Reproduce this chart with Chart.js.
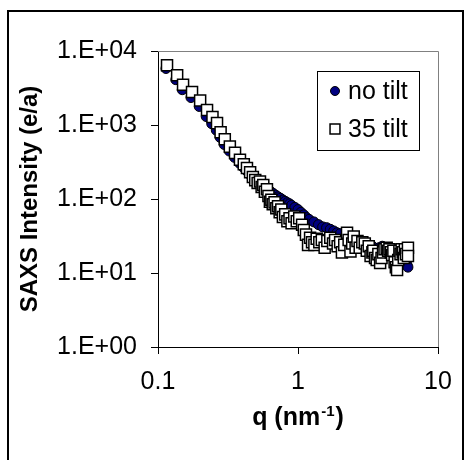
<!DOCTYPE html>
<html>
<head>
<meta charset="utf-8">
<script src="https://cdn.jsdelivr.net/npm/chart.js@4/dist/chart.umd.min.js"></script>
<style>
  body { margin: 0; background: #fff; }
  #wrap { width: 466px; height: 460px; }
</style>
</head>
<body>
<div id="wrap"><canvas id="saxsChart" width="466" height="460"></canvas></div>
<script>
// values
const noTiltQ = [0.114, 0.134, 0.149, 0.172, 0.197, 0.221, 0.242, 0.261, 0.278, 0.297,
    0.323, 0.352, 0.382, 0.407, 0.430, 0.453, 0.476, 0.500,
    0.530, 0.550, 0.570, 0.590, 0.610, 0.630, 0.660, 0.690, 0.720, 0.750,
    0.780, 0.810, 0.840, 0.870, 0.900, 0.950, 1.00, 1.05, 1.10, 1.15,
    1.20, 1.30, 1.40, 1.50, 1.60, 1.70, 1.80, 1.90, 2.00, 2.20,
    2.40, 2.60, 2.80, 3.00, 3.20, 3.40, 3.60, 3.80, 4.00, 4.20,
    4.40, 4.60, 4.80, 5.00, 5.20, 5.40, 5.60, 5.80, 6.00, 6.10];
const noTiltI = [5800, 4100, 3000, 2350, 1780, 1300, 1040, 850, 680, 545,
    445, 365, 305, 268, 240, 215, 197, 182,
    166, 157, 150, 143, 137, 128, 120, 113, 107, 102,
    97, 93, 89, 86, 82, 77, 72, 66, 61, 56,
    53, 49, 45, 42, 41, 39, 37, 35, 34, 31,
    30, 28, 27, 25, 24, 23, 21, 22, 23, 22,
    21, 20, 19, 18, 17, 18, 16, 15, 13, 12];

const tiltQ = [0.116, 0.137, 0.151, 0.175, 0.200, 0.224, 0.245, 0.264, 0.280, 0.300,
    0.326, 0.355, 0.385, 0.410, 0.432, 0.455, 0.476, 0.495, 0.515, 0.535,
    0.550, 0.565, 0.580, 0.600, 0.615,
    0.630, 0.645, 0.660, 0.680, 0.700, 0.720, 0.740, 0.760, 0.780, 0.810,
    0.840, 0.870, 0.900, 0.940, 0.980, 1.02, 1.07, 1.10, 1.14, 1.18,
    1.22, 1.26, 1.31, 1.36, 1.42, 1.48, 1.55, 1.62, 1.70, 1.78,
    1.84, 1.92, 2.00, 2.06, 2.14, 2.24, 2.30, 2.37, 2.44, 2.50,
    2.58, 2.66, 2.76, 2.88, 3.00, 3.10, 3.20, 3.30, 3.40, 3.45,
    3.55, 3.65, 3.75, 3.86, 3.95, 4.05, 4.15, 4.30, 4.40, 4.50,
    4.60, 4.70, 4.80, 4.90, 5.00, 5.10, 5.20, 5.30, 5.40, 5.50,
    5.60, 5.70, 5.80, 5.90, 6.10, 6.10];
const tiltI = [6400, 4700, 3500, 2800, 2150, 1600, 1280, 1060, 800, 640,
    510, 420, 340, 295, 262, 230, 198, 180, 165, 172,
    145, 155, 125, 135, 110,
    92, 98, 85, 90, 75, 80, 66, 72, 57, 62,
    50, 55, 47, 58, 50, 55, 45, 38, 33, 24,
    30, 26, 24, 29, 26, 28, 22, 27, 30, 25,
    28, 23, 26, 19, 24, 35, 28, 19.5, 25, 31,
    22, 27, 22, 26, 25, 20, 23, 17, 19, 20,
    16, 15, 18, 13.7, 16, 19, 21, 22, 20, 21,
    19, 17.5, 20, 14, 12, 11, 15, 20, 18, 21,
    19, 16, 21, 18, 22, 17];

const xTicks = [0.1, 1, 10];
const xTickLabels = ["0.1", "1", "10"];
const yTicks = [1, 10, 100, 1000, 10000];
const yTickLabels = ["1.E+00", "1.E+01", "1.E+02", "1.E+03", "1.E+04"];
const seriesNames = ["no tilt", "35 tilt"];

const FONT = "'Liberation Sans', Arial, sans-serif";

function toPoints(xs, ys) {
    return xs.map((x, i) => ({ x: x, y: ys[i] }));
}

// page frame, plot border and background
const framePlugin = {
    id: "frame",
    beforeDraw(chart) {
        const ctx = chart.ctx;
        ctx.save();
        ctx.fillStyle = "#fff";
        ctx.fillRect(0, 0, chart.width, chart.height);
        ctx.strokeStyle = "#000";
        ctx.lineWidth = 2;
        ctx.strokeRect(8, 11, chart.width - 11, chart.height + 20);
        ctx.restore();
    },
    beforeDatasetsDraw(chart) {
        const a = chart.chartArea;
        const ctx = chart.ctx;
        ctx.save();
        ctx.strokeStyle = "#808080";
        ctx.lineWidth = 1;
        ctx.beginPath();
        ctx.moveTo(a.left, a.top + 0.5);
        ctx.lineTo(a.right + 0.5, a.top + 0.5);
        ctx.lineTo(a.right + 0.5, a.bottom);
        ctx.stroke();
        ctx.restore();
    }
};

// legend box inside the plot + x title with superscript
const extrasPlugin = {
    id: "extras",
    afterDraw(chart) {
        const ctx = chart.ctx;
        const a = chart.chartArea;
        ctx.save();

        const bx = a.right - 121, by = a.top + 20, bw = 102, bh = 79;
        ctx.fillStyle = "#fff";
        ctx.fillRect(bx, by, bw, bh);
        ctx.strokeStyle = "#000";
        ctx.lineWidth = 1;
        ctx.strokeRect(bx + 0.5, by + 0.5, bw, bh);

        ctx.font = "25px " + FONT;
        ctx.textBaseline = "middle";
        ctx.textAlign = "left";
        chart.data.datasets.forEach((ds, i) => {
            const cy = by + 20 + i * 38;
            ctx.fillStyle = ds.backgroundColor;
            ctx.strokeStyle = ds.borderColor;
            ctx.lineWidth = ds.borderWidth;
            Chart.helpers.drawPoint(ctx, {
                pointStyle: ds.pointStyle,
                radius: i === 0 ? 4.5 : 7,
                rotation: 0,
                borderWidth: ds.borderWidth
            }, bx + 18, cy);
            ctx.fillStyle = "#000";
            ctx.fillText(seriesNames[i], bx + 31, cy + 1);
        });

        // x axis title: q (nm^-1)
        const main1 = "q (nm", sup = "-1", main2 = ")";
        ctx.fillStyle = "#000";
        ctx.textBaseline = "alphabetic";
        ctx.font = "bold 25px " + FONT;
        const w1 = ctx.measureText(main1).width;
        const w3 = ctx.measureText(main2).width;
        ctx.font = "bold 15px " + FONT;
        const w2 = ctx.measureText(sup).width;
        let x = (a.left + a.right) / 2 - (w1 + w2 + w3 + 2) / 2;
        const base = 425;
        ctx.font = "bold 25px " + FONT;
        ctx.fillText(main1, x, base);
        x += w1 + 1;
        ctx.font = "bold 15px " + FONT;
        ctx.fillText(sup, x, base - 9);
        x += w2 + 1;
        ctx.font = "bold 25px " + FONT;
        ctx.fillText(main2, x, base);
        ctx.restore();
    }
};

const ctx = document.getElementById("saxsChart").getContext("2d");
const saxsChart = new Chart(ctx, {
    type: "scatter",
    data: {
        datasets: [
            {
                label: seriesNames[0],
                data: toPoints(noTiltQ, noTiltI),
                pointStyle: "circle",
                radius: 5,
                backgroundColor: "#000080",
                borderColor: "#000000",
                borderWidth: 1,
                order: 1
            },
            {
                label: seriesNames[1],
                data: toPoints(tiltQ, tiltI),
                pointStyle: "rect",
                radius: 7.8,
                backgroundColor: "#ffffff",
                borderColor: "#000000",
                borderWidth: 1.5,
                order: 0
            }
        ]
    },
    options: {
        responsive: false,
        animation: false,
        devicePixelRatio: 1,
        layout: { padding: { top: 51, right: 28, left: 0, bottom: 0 } },
        plugins: {
            legend: { display: false },
            tooltip: { enabled: false }
        },
        scales: {
            x: {
                type: "logarithmic",
                min: 0.1,
                max: 10,
                afterBuildTicks: s => { s.ticks = xTicks.map(v => ({ value: v })); },
                afterFit: s => { s.height = 113; },
                ticks: {
                    autoSkip: false,
                    maxRotation: 0,
                    padding: 13,
                    color: "#000",
                    font: { family: FONT, size: 25 },
                    callback: (v, i) => xTickLabels[i]
                },
                grid: { drawOnChartArea: false, tickLength: 7, color: "#000" },
                border: { color: "#000", width: 1 }
            },
            y: {
                type: "logarithmic",
                min: 1,
                max: 10000,
                afterBuildTicks: s => { s.ticks = yTicks.map(v => ({ value: v })); },
                afterFit: s => { s.width = 158; },
                ticks: {
                    autoSkip: false,
                    padding: 14,
                    color: "#000",
                    font: { family: FONT, size: 25 },
                    callback: (v, i) => yTickLabels[i]
                },
                grid: { drawOnChartArea: false, tickLength: 7, color: "#000" },
                border: { color: "#000", width: 1 },
                title: {
                    display: true,
                    text: "SAXS Intensity (e/a)",
                    color: "#000",
                    padding: { top: 16, bottom: 0 },
                    font: { family: FONT, size: 24, weight: "bold" }
                }
            }
        }
    },
    plugins: [framePlugin, extrasPlugin]
});
</script>
</body>
</html>
